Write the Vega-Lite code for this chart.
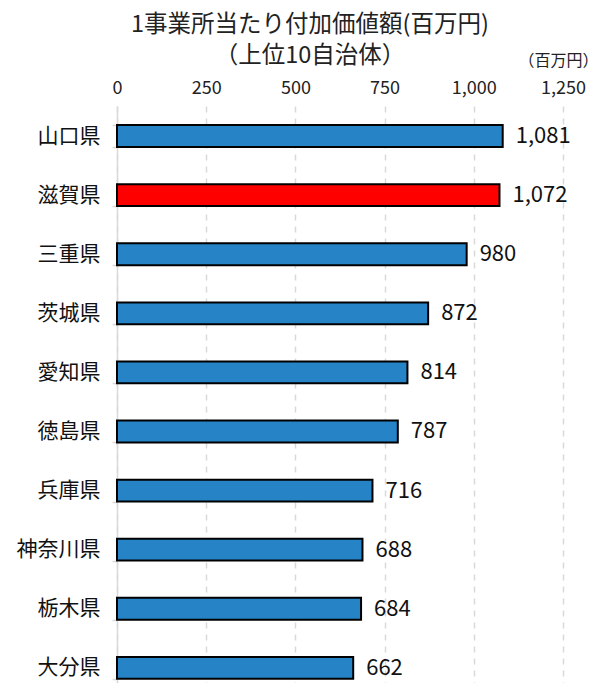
{
  "$schema": "https://vega.github.io/schema/vega-lite/v6.json",
  "autosize": "none",
  "width": 446,
  "height": 577,
  "padding": {"left": 117, "top": 106, "right": 37, "bottom": 0},
  "background": "white",
  "config": {"view": {"stroke": null}, "font": "Noto Sans CJK JP"},
  "title": {
    "text": ["1事業所当たり付加価値額(百万円)", "（上位10自治体）"],
    "fontSize": 23.5,
    "fontWeight": "normal",
    "color": "#222222",
    "anchor": "middle",
    "dx": -30,
    "offset": -15,
    "lineHeight": 31,
    "font": "Noto Sans CJK JP"
  },
  "data": {
    "values": [
      {"pref": "山口県", "value": 1081, "hl": "no"},
      {"pref": "滋賀県", "value": 1072, "hl": "yes"},
      {"pref": "三重県", "value": 980, "hl": "no"},
      {"pref": "茨城県", "value": 872, "hl": "no"},
      {"pref": "愛知県", "value": 814, "hl": "no"},
      {"pref": "徳島県", "value": 787, "hl": "no"},
      {"pref": "兵庫県", "value": 716, "hl": "no"},
      {"pref": "神奈川県", "value": 688, "hl": "no"},
      {"pref": "栃木県", "value": 684, "hl": "no"},
      {"pref": "大分県", "value": 662, "hl": "no"}
    ]
  },
  "encoding": {
    "y": {
      "field": "pref",
      "type": "nominal",
      "sort": null,
      "scale": {"paddingInner": 0.63, "paddingOuter": 0.197, "align": 0.82},
      "axis": {
        "title": null,
        "domainColor": "#d9d9d9",
        "domainWidth": 1.5,
        "tickColor": "#d9d9d9",
        "tickWidth": 1.5,
        "tickSize": 5,
        "tickBand": "extent",
        "labelFontSize": 21,
        "labelColor": "#111111",
        "labelPadding": 12,
        "grid": false
      }
    }
  },
  "layer": [
    {
      "mark": {"type": "bar", "stroke": "black", "strokeWidth": 2},
      "encoding": {
        "x": {
          "field": "value",
          "type": "quantitative",
          "scale": {"domain": [0, 1250], "nice": false},
          "axis": {
            "orient": "top",
            "values": [0, 250, 500, 750, 1000, 1250],
            "format": ",d",
            "domain": false,
            "ticks": false,
            "labelFlush": false,
            "labelFontSize": 18,
            "labelColor": "#222222",
            "labelPadding": 9,
            "grid": true,
            "gridColor": "#d9d9d9",
            "gridWidth": 1.5,
            "gridDash": [6, 6],
            "title": "（百万円）",
            "titleFontSize": 16,
            "titleFontWeight": "normal",
            "titleColor": "#222222",
            "titleAlign": "left",
            "titleAnchor": "start",
            "titleX": 401,
            "titleY": -38
          }
        },
        "color": {
          "field": "hl",
          "type": "nominal",
          "scale": {"domain": ["no", "yes"], "range": ["#2583c6", "#ff0000"]},
          "legend": null
        }
      }
    },
    {
      "mark": {"type": "text", "align": "left", "baseline": "middle", "dx": 13, "fontSize": 22, "color": "#111111"},
      "encoding": {
        "x": {"field": "value", "type": "quantitative"},
        "text": {"field": "value", "type": "quantitative", "format": ",d"}
      }
    }
  ]
}
